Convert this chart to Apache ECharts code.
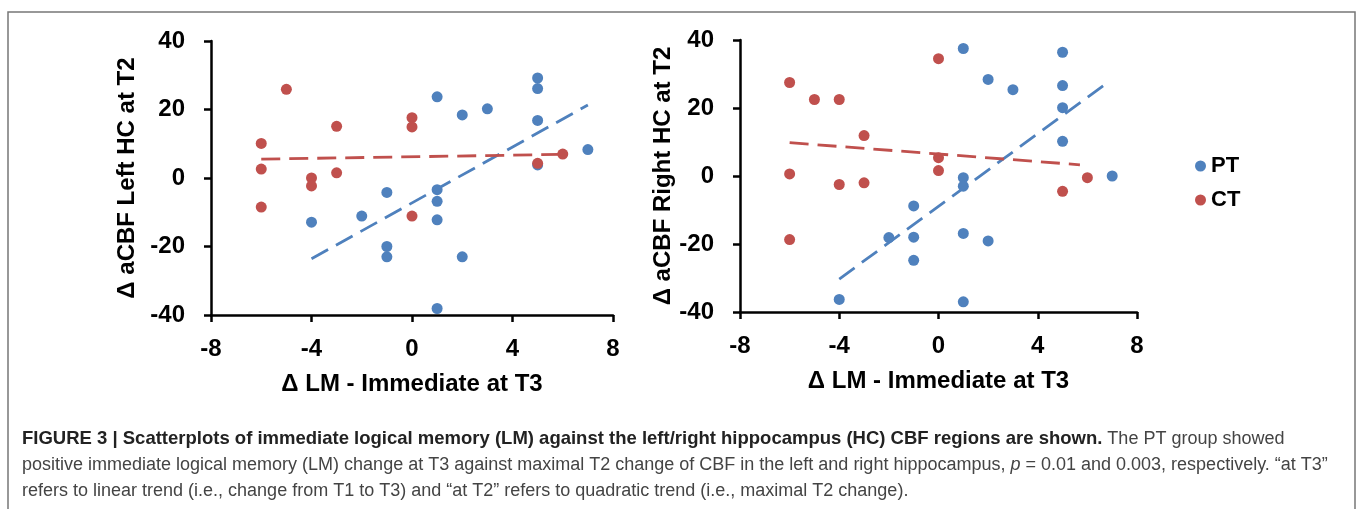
<!DOCTYPE html>
<html>
<head>
<meta charset="utf-8">
<script src="https://cdn.jsdelivr.net/npm/echarts@6/dist/echarts.min.js"></script>
<style>
html,body{margin:0;padding:0;background:#fff;}
#chart{width:1357px;height:509px;}
</style>
</head>
<body>
<div id="chart"></div>
<script>
// ---- Data ----
const xTicks = [-8, -4, 0, 4, 8];
const yTicks = [-40, -20, 0, 20, 40];

// Left panel: Δ aCBF Left HC at T2 vs Δ LM - Immediate at T3
const leftPT = [[-4,-12.9],[-2,-11.1],[-1,-4.2],[-1,-20.0],[-1,-23.0],[1,23.7],[1,-3.4],[1,-6.8],[1,-12.2],[1,-38.1],[2,18.4],[2,-23.0],[3,20.2],[5,29.2],[5,26.1],[5,16.8],[5,3.8],[7,8.3]];
const leftCT = [[-6,10.1],[-6,2.6],[-6,-8.5],[-5,25.9],[-4,0.0],[-4,-2.3],[-3,15.1],[-3,1.5],[0,17.6],[0,14.9],[0,-11.1],[5,4.3],[6,7.0]];
const leftPTTrend = [[-4,-23.6],[7,21.3]];
const leftCTTrend = [[-6,5.5],[6,6.9]];

// Right panel: Δ aCBF Right HC at T2 vs Δ LM - Immediate at T3
const rightPT = [[-4,-36.3],[-2,-18.1],[-1,-8.8],[-1,-18.0],[-1,-24.8],[1,37.5],[1,-0.5],[1,-3.0],[1,-16.9],[1,-37.0],[2,28.4],[2,-19.1],[3,25.4],[5,36.4],[5,26.6],[5,20.1],[5,10.2],[7,0.0]];
const rightCT = [[-6,27.5],[-6,0.6],[-6,-18.7],[-5,22.5],[-4,22.5],[-4,-2.5],[-3,11.9],[-3,-2.0],[0,34.5],[0,5.4],[0,1.6],[5,-4.5],[6,-0.5]];
const rightPTTrend = [[-4,-30.3],[6.8,27.4]];
const rightCTTrend = [[-6,9.8],[5.7,3.3]];

const groups = ['PT', 'CT'];
const xTitle = 'Δ LM - Immediate at T3';
const yTitles = ['Δ aCBF Left HC at T2', 'Δ aCBF Right HC at T2'];

// ---- Styling ----
const BLUE = '#4F81BD', RED = '#C0504D';
const FONT = '"Liberation Sans", Arial, Helvetica, sans-serif';
const axisLabelStyle = {fontFamily: FONT, fontWeight: 'bold', fontSize: 24, color: '#000'};

function xAx(gi) {
  return {
    type: 'value', gridIndex: gi, min: xTicks[0], max: xTicks[xTicks.length-1], interval: 4,
    name: xTitle, nameLocation: 'middle', nameGap: 57, nameMoveOverlap: false,
    nameTextStyle: {fontFamily: FONT, fontWeight: 'bold', fontSize: 24, color: '#000'},
    axisLine: {onZero: false, lineStyle: {color: '#000', width: 2.5}},
    axisTick: {show: true, inside: false, length: 7, lineStyle: {color: '#000', width: 2.5}},
    axisLabel: Object.assign({margin: 22}, axisLabelStyle),
    splitLine: {show: false}
  };
}
function yAx(gi, gap) {
  return {
    type: 'value', gridIndex: gi, min: yTicks[0], max: yTicks[yTicks.length-1], interval: 20,
    name: yTitles[gi], nameLocation: 'middle', nameGap: gap, nameMoveOverlap: false,
    nameTextStyle: {fontFamily: FONT, fontWeight: 'bold', fontSize: 24, color: '#000'},
    axisLine: {show: true, onZero: false, lineStyle: {color: '#000', width: 2.5}},
    axisTick: {show: true, inside: false, length: 7, lineStyle: {color: '#000', width: 2.5}},
    axisLabel: Object.assign({margin: 26}, axisLabelStyle),
    splitLine: {show: false}
  };
}
function scatter(name, data, gi, color) {
  return {type: 'scatter', name: name, xAxisIndex: gi, yAxisIndex: gi, data: data,
    symbol: 'circle', symbolSize: 11, itemStyle: {color: color, opacity: 1}, z: 3};
}
function trend(data, gi, color) {
  return {type: 'line', name: 'trend', xAxisIndex: gi, yAxisIndex: gi, data: data,
    symbol: 'none', silent: true, z: 4,
    lineStyle: {color: color, width: 2.8, type: [19, 9]}};
}

const capN = {fontFamily: FONT, fontSize: 18, fill: '#444'};
const capB = {fontFamily: FONT, fontWeight: 'bold', fontSize: 18.5, fill: '#222'};
const capI = {fontFamily: FONT, fontStyle: 'italic', fontSize: 18, fill: '#444'};

const chart = echarts.init(document.getElementById('chart'), null, {renderer: 'canvas'});
chart.setOption({
  animation: false,
  backgroundColor: '#fff',
  grid: [
    {left: 211, top: 41, width: 402, height: 274},
    {left: 740, top: 40, width: 397, height: 272}
  ],
  xAxis: [xAx(0), xAx(1)],
  yAxis: [yAx(0, 72), yAx(1, 65)],
  legend: {
    data: groups, orient: 'vertical', left: 1190, top: 150, itemGap: 12,
    icon: 'circle', itemWidth: 11, itemHeight: 11,
    textStyle: {fontFamily: FONT, fontWeight: 'bold', fontSize: 22, color: '#000'}
  },
  series: [
    scatter(groups[0], leftPT, 0, BLUE),
    scatter(groups[1], leftCT, 0, RED),
    trend(leftPTTrend, 0, BLUE),
    trend(leftCTTrend, 0, RED),
    scatter(groups[0], rightPT, 1, BLUE),
    scatter(groups[1], rightCT, 1, RED),
    trend(rightPTTrend, 1, BLUE),
    trend(rightCTTrend, 1, RED)
  ],
  graphic: [
    {type: 'rect', x: 8, y: 12, shape: {width: 1347, height: 520},
     style: {fill: 'none', stroke: '#777', lineWidth: 1.5}, silent: true},
    {type: 'text', x: 22, y: 439, silent: true,
     style: {text: '{b|FIGURE 3 | Scatterplots of immediate logical memory (LM) against the left/right hippocampus (HC) CBF regions are shown.}{n| The PT group showed}',
       verticalAlign: 'middle', rich: {b: capB, n: capN}}},
    {type: 'text', x: 22, y: 465, silent: true,
     style: {text: '{n|positive immediate logical memory (LM) change at T3 against maximal T2 change of CBF in the left and right hippocampus, }{i|p}{n| = 0.01 and 0.003, respectively. “at T3”}',
       verticalAlign: 'middle', rich: {n: capN, i: capI}}},
    {type: 'text', x: 22, y: 491, silent: true,
     style: {text: '{n|refers to linear trend (i.e., change from T1 to T3) and “at T2” refers to quadratic trend (i.e., maximal T2 change).}',
       verticalAlign: 'middle', rich: {n: capN}}}
  ]
});
</script>
</body>
</html>
